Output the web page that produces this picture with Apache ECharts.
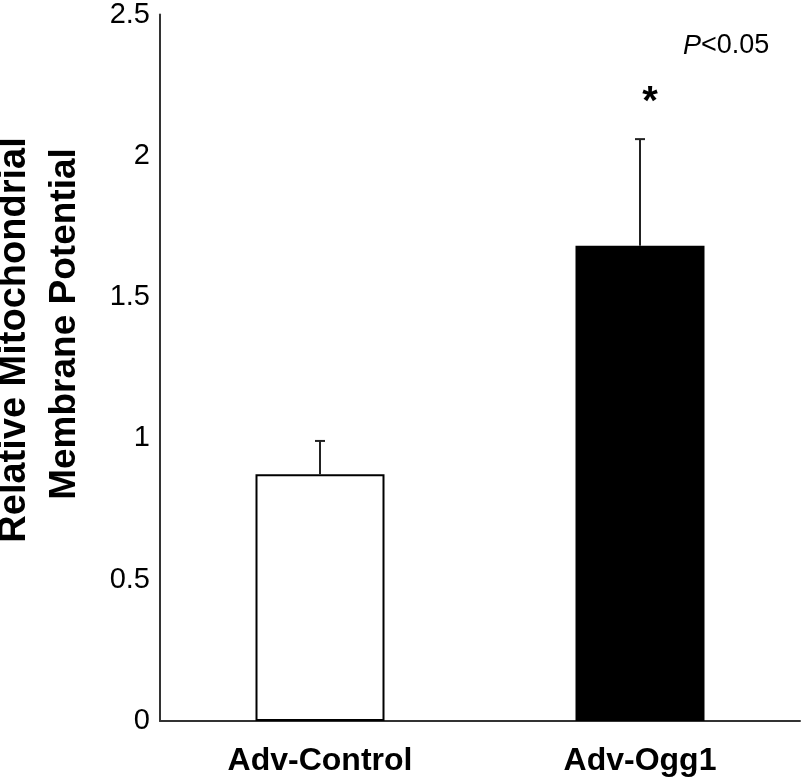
<!DOCTYPE html>
<html><head><meta charset="utf-8">
<script src="https://cdn.jsdelivr.net/npm/echarts@6/dist/echarts.min.js"></script>
<style>html,body{margin:0;padding:0;background:#fff}#c{width:806px;height:779px}</style>
</head><body><div id="c"></div>
<script>
const categories = ['Adv-Control', 'Adv-Ogg1'];
const means = [0.873, 1.682];
const errTops = [0.991, 2.059];
const sigMarks = ['', '*'];
const barColors = ['#ffffff', '#000000'];
const yTicks = [0, 0.5, 1, 1.5, 2, 2.5];
const yTitle = ['Relative Mitochondrial', 'Membrane Potential'];
const pText = 'P<0.05';

const chart = echarts.init(document.getElementById('c'));
const font = 'Liberation Sans, Arial, sans-serif';
chart.setOption({
  animation: false,
  grid: { left: 160, right: 6, top: 12, bottom: 58 },
  xAxis: {
    type: 'category', data: categories,
    axisLine: { lineStyle: { color: '#333', width: 2 } },
    axisTick: { show: false },
    axisLabel: { fontFamily: font, fontWeight: 'bold', fontSize: 32, color: '#000', margin: 24 }
  },
  yAxis: {
    type: 'value', min: 0, max: 2.5, interval: 0.5,
    axisLine: { show: true, lineStyle: { color: '#333', width: 2 } },
    axisTick: { show: false },
    splitLine: { show: false },
    axisLabel: { fontFamily: font, fontSize: 29, color: '#000', margin: 10,
      formatter: v => (yTicks.includes(v) ? String(v) : '') }
  },
  graphic: [
    { type: 'text', rotation: Math.PI / 2, x: 15, y: 340, style: {
      text: yTitle[0], font: 'bold 38px ' + font, fill: '#000', textAlign: 'center', textVerticalAlign: 'middle' } },
    { type: 'text', rotation: Math.PI / 2, x: 65, y: 324, style: {
      text: yTitle[1], font: 'bold 37px ' + font, fill: '#000', textAlign: 'center', textVerticalAlign: 'middle' } },
    { type: 'text', x: 683, y: 46, style: {
      rich: { i: { fontStyle: 'italic', fontSize: 27, fontFamily: font, fill: '#000' }, n: { fontSize: 27, fontFamily: font, fill: '#000' } },
      text: '{i|P}{n|' + pText.slice(1) + '}', textVerticalAlign: 'middle' } }
  ],
  series: [
    {
      type: 'bar', barWidth: 129,
      data: means.map((v, i) => ({ value: v, itemStyle: { color: barColors[i], borderColor: '#000', borderWidth: 2 } }))
    },
    {
      type: 'custom',
      data: categories.map((c, i) => [i, means[i], errTops[i], sigMarks[i]]),
      renderItem: function (params, api) {
        const base = api.coord([api.value(0), api.value(1)]);
        const top = api.coord([api.value(0), api.value(2)]);
        const cap = 5;
        const children = [
          { type: 'line', shape: { x1: base[0], y1: base[1], x2: top[0], y2: top[1] }, style: { stroke: '#222', lineWidth: 2 } },
          { type: 'line', shape: { x1: top[0] - cap, y1: top[1], x2: top[0] + cap, y2: top[1] }, style: { stroke: '#222', lineWidth: 2 } }
        ];
        const mark = sigMarks[params.dataIndex];
        if (mark) {
          children.push({ type: 'text', x: top[0] + 10, y: top[1] - 36, style: {
            text: mark, font: 'bold 40px ' + font, fill: '#000', textAlign: 'center', textVerticalAlign: 'middle' } });
        }
        return { type: 'group', children };
      },
      z: 5
    }
  ]
});
</script></body></html>
